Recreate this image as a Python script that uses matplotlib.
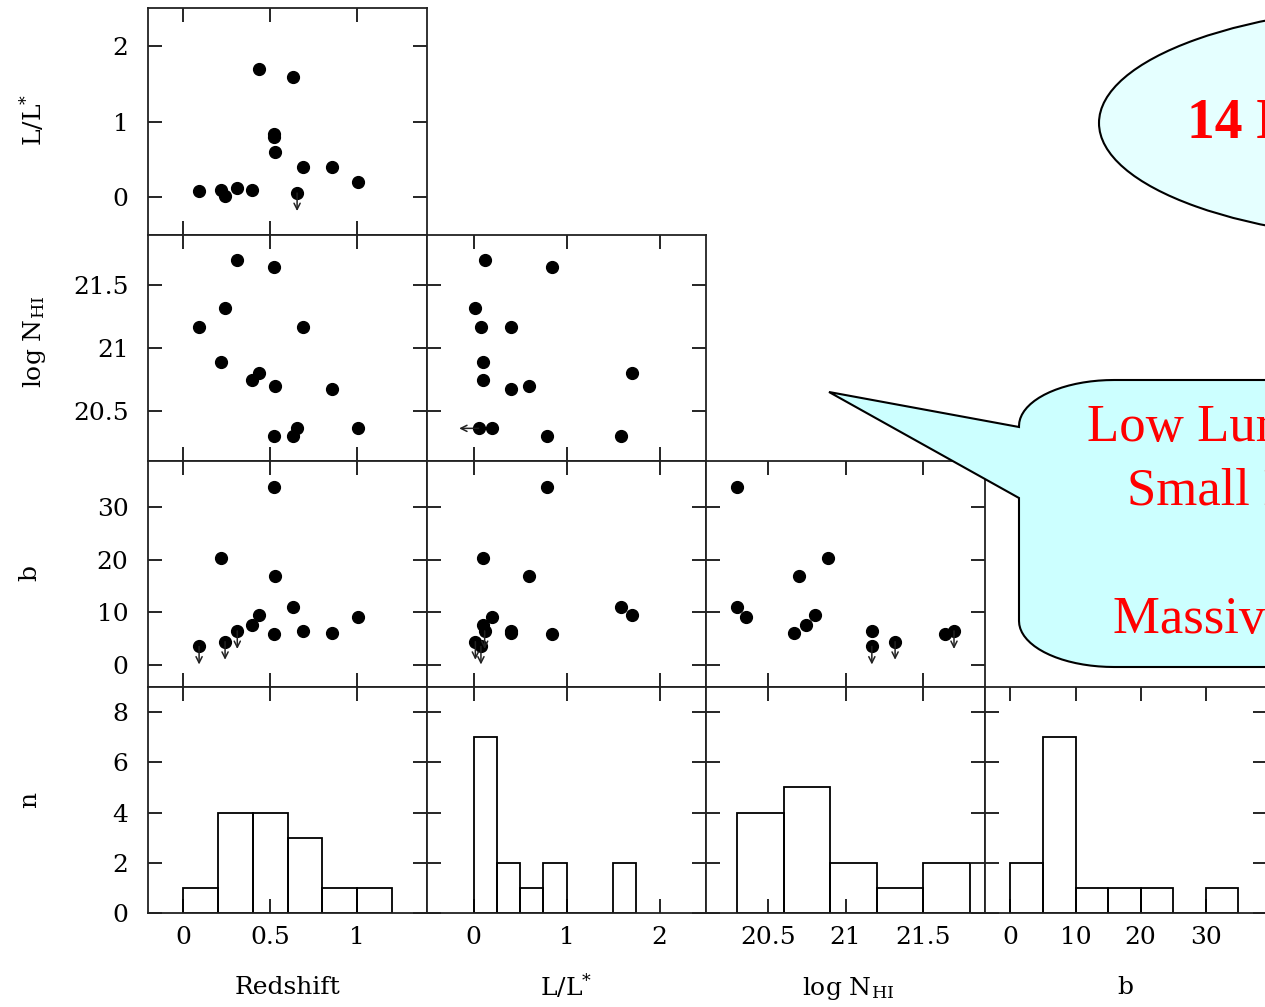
import numpy as np
import matplotlib
matplotlib.use("Agg")
import matplotlib.pyplot as plt
from matplotlib.patches import Ellipse, Polygon

plt.rcParams['font.family'] = 'DejaVu Serif'
plt.rcParams['mathtext.fontset'] = 'dejavuserif'

# 14 DLA galaxies
redshift = [0.093, 0.219, 0.242, 0.312, 0.398, 0.437, 0.524, 0.524, 0.530, 0.632, 0.655, 0.691, 0.857, 1.007]
lum = [0.08, 0.10, 0.02, 0.12, 0.10, 1.70, 0.84, 0.79, 0.60, 1.59, 0.055, 0.40, 0.40, 0.20]
lum_upper = [0, 0, 0, 0, 0, 0, 0, 0, 0, 0, 1, 0, 0, 0]
lognhi = [21.17, 20.89, 21.32, 21.70, 20.745, 20.80, 21.645, 20.30, 20.70, 20.30, 20.36, 21.17, 20.67, 20.36]
bpar = [3.5, 20.2, 4.4, 6.45, 7.5, 9.5, 5.9, 33.8, 16.8, 11.0, np.nan, 6.4, 6.1, 9.1]
b_upper = [1, 0, 1, 1, 0, 0, 0, 0, 0, 0, 0, 0, 0, 0]

# histogram bins
z_bins = [0, 0.2, 0.4, 0.6, 0.8, 1.0, 1.2]
lum_bins = [0, 0.25, 0.5, 0.75, 1.0, 1.25, 1.5, 1.75]
nhi_bins = [20.3, 20.6, 20.9, 21.2, 21.5, 21.8]
b_bins = [0, 5, 10, 15, 20, 25, 30, 35]

# ticks
z_ticks = [0, 0.5, 1]
z_labels = ['0', '0.5', '1']
lum_ticks = [0, 1, 2]
lum_labels = ['0', '1', '2']
nhi_ticks = [20.5, 21, 21.5]
nhi_labels = ['20.5', '21', '21.5']
b_ticks = [0, 10, 20, 30]
b_labels = ['0', '10', '20', '30']
n_ticks = [0, 2, 4, 6, 8]
n_labels = ['0', '2', '4', '6', '8']

W, H = 1265, 1007
fig = plt.figure(figsize=(W / 100, H / 100), dpi=100)

def fx(px):
    return px / W

def fy(py):
    return 1 - py / H

col_left = [148, 427, 706, 985]
col_width = [279, 279, 279, 282]
row_top = [8, 235, 461, 687]
row_height = [227, 226, 226, 226]

values = [np.array(redshift), np.array(lum), np.array(lognhi), np.array(bpar)]
uppers = [None, np.array(lum_upper, bool), None, np.array(b_upper, bool)]
bins = [z_bins, lum_bins, nhi_bins, b_bins]
xlims = [(-0.2, 1.4), (-0.5, 2.5), (20.1, 21.9), (-3.9, 39.4)]
ylims = [(-0.5, 2.5), (20.1, 21.9), (-4.2, 38.7)]
ticks = [(z_ticks, z_labels), (lum_ticks, lum_labels), (nhi_ticks, nhi_labels), (b_ticks, b_labels)]
row_ticks = [(lum_ticks, lum_labels), (nhi_ticks, nhi_labels), (b_ticks, b_labels), (n_ticks, n_labels)]

def style(ax, r, c):
    ax.tick_params(direction='in', top=True, right=True, length=10, width=1.2,
                   labelsize=18, labelleft=(c == 0), labelbottom=(r == 3), pad=9)
    ax.tick_params(axis='y', pad=14)
    for s in ax.spines.values():
        s.set_linewidth(1.3)
        s.set_color('#222222')
    ax.set_xticks(ticks[c][0])
    ax.set_xticklabels(ticks[c][1])
    ax.set_yticks(row_ticks[r][0])
    ax.set_yticklabels(row_ticks[r][1])

for r in range(4):
    for c in range(r + 1):
        ax = fig.add_axes([fx(col_left[c]), fy(row_top[r] + row_height[r]),
                           col_width[c] / W, row_height[r] / H])
        if r < 3:
            xv = values[c]
            yv = values[r + 1]
            ax.plot(xv, yv, 'o', color='black', ms=8.5, zorder=3)
            ok = ~np.isnan(xv) & ~np.isnan(yv)
            # upper limits on the y quantity: arrows pointing down
            if uppers[r + 1] is not None:
                for x, y in zip(xv[uppers[r + 1] & ok], yv[uppers[r + 1] & ok]):
                    ax.annotate('', xy=(x, y), xytext=(0, -13), textcoords='offset points',
                                arrowprops=dict(arrowstyle='<-', lw=1.1, color='#222222',
                                                shrinkA=0, shrinkB=0, mutation_scale=11))
            # upper limits on the x quantity: arrows pointing left
            if uppers[c] is not None:
                for x, y in zip(xv[uppers[c] & ok], yv[uppers[c] & ok]):
                    ax.annotate('', xy=(x, y), xytext=(-14, 0), textcoords='offset points',
                                arrowprops=dict(arrowstyle='<-', lw=1.1, color='#222222',
                                                shrinkA=0, shrinkB=0, mutation_scale=11))
            ax.set_ylim(*ylims[r])
        else:
            v = values[c]
            ax.hist(v[~np.isnan(v)], bins=bins[c], fill=False, edgecolor='black', lw=1.3)
            ax.set_ylim(0, 9)
        ax.set_xlim(*xlims[c])
        style(ax, r, c)

# axis labels
fs = 18
fig.text(fx(287), fy(988), 'Redshift', ha='center', va='center', fontsize=fs)
fig.text(fx(566), fy(986), r'L/L$^{*}$', ha='center', va='center', fontsize=fs)
fig.text(fx(848), fy(988), r'log N$_{\rm HI}$', ha='center', va='center', fontsize=fs)
fig.text(fx(1125), fy(988), 'b', ha='center', va='center', fontsize=fs)
fig.text(fx(32), fy(120), r'L/L$^{*}$', ha='center', va='center', rotation=90, fontsize=fs)
fig.text(fx(34), fy(342), r'log N$_{\rm HI}$', ha='center', va='center', rotation=90, fontsize=fs)
fig.text(fx(30), fy(573), 'b', ha='center', va='center', rotation=90, fontsize=fs)
fig.text(fx(30), fy(800), 'n', ha='center', va='center', rotation=90, fontsize=fs)

# callouts drawn on a pixel-space overlay
ov = fig.add_axes([0, 0, 1, 1])
ov.set_zorder(10)
ov.set_xlim(0, W)
ov.set_ylim(H, 0)
ov.axis('off')

ov.add_patch(Ellipse((1430, 123), 662, 236, facecolor='#E5FFFF', edgecolor='black', lw=1.5))
ov.text(1187, 137, '14 DLAs', color='#FF0000', fontsize=40, fontweight='bold',
        family='Liberation Serif', ha='left', va='baseline')

L, T, B, R = 1019, 380, 667, 1800
rx, ry = 95, 46
t1 = np.radians(np.linspace(180, 90, 20))
t2 = np.radians(np.linspace(270, 180, 20))
pts = [(L, 427), (829, 392), (L, 498), (L, B - ry)]
pts += list(zip(L + rx + rx * np.cos(t1), B - ry + ry * np.sin(t1)))
pts += [(R, B), (R, T)]
pts += list(zip(L + rx + rx * np.cos(t2), T + ry + ry * np.sin(t2)))
ov.add_patch(Polygon(pts, closed=True, facecolor='#CCFFFF', edgecolor='black', lw=1.5))

bubble_lines = [('Low Luminosity', 1087, 441), ('Small Impact Parameters', 1127, 505),
                ('Massive Disks', 1113, 633)]
for txt, x0, y0 in bubble_lines:
    ov.text(x0, y0, txt, color='#FF0000', fontsize=38, family='Liberation Serif',
            ha='left', va='baseline')

fig.savefig('out.png', dpi=100)
